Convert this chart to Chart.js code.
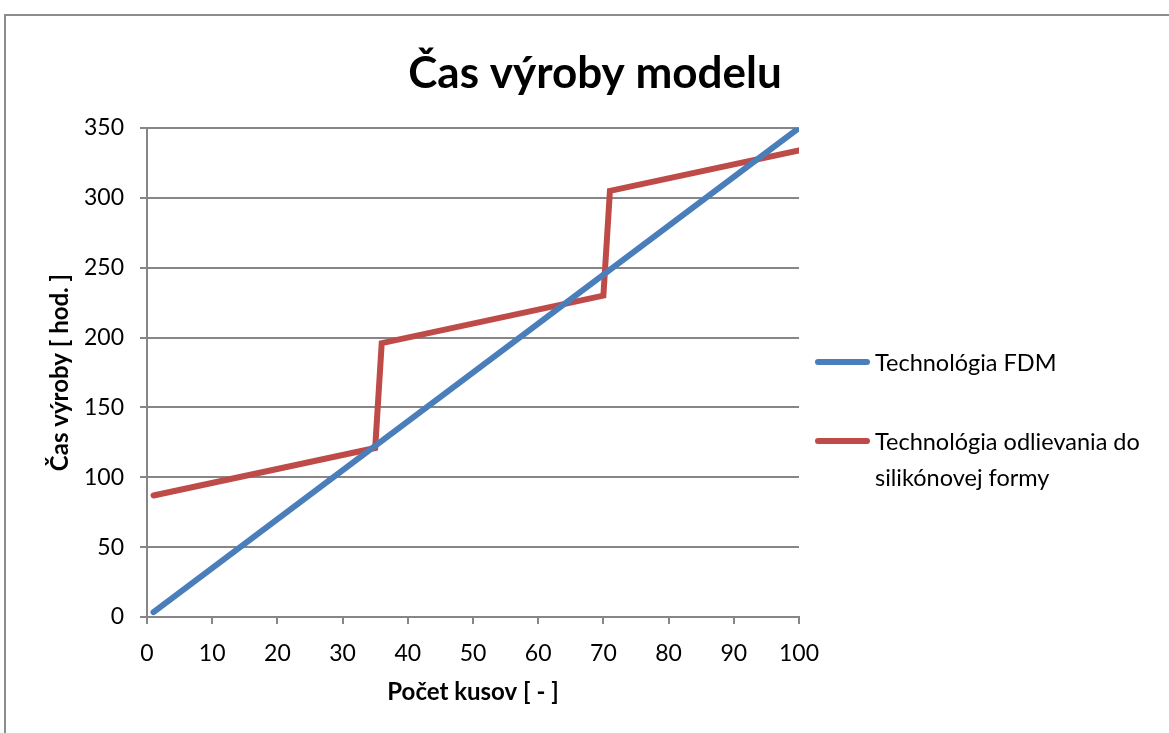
<!DOCTYPE html>
<html>
<head>
<meta charset="utf-8">
<script src="https://cdn.jsdelivr.net/npm/chart.js@4.4.1/dist/chart.umd.min.js"></script>
<style>
  html, body { margin: 0; padding: 0; background: #fff; overflow: hidden; }
  #wrap { position: relative; width: 1169px; height: 733px; }
  #frame { position: absolute; left: 4px; top: 14px; width: 1300px; height: 900px; border: 2px solid #8c8c8c; box-sizing: border-box; pointer-events: none; }
  #legend { position: absolute; left: 815px; top: 340px; font-family: Lato, "Open Sans", sans-serif; font-size: 23.5px; color: #000; }
  .item { position: absolute; left: 0; white-space: nowrap; }
  .swatch { position: absolute; left: 0; width: 55px; height: 6px; border-radius: 3px; }
  .label { position: absolute; left: 60px; line-height: 36px; }
</style>
</head>
<body>
<div id="wrap">
  <canvas id="c" width="1169" height="733"></canvas>
  <div id="frame"></div>
  <div id="legend"></div>
</div>
<script>
const chartTitle = "Čas výroby modelu";
const xAxisTitle = "Počet kusov [ - ]";
const yAxisTitle = "Čas výroby [ hod. ]";

const fdmLabel = "Technológia FDM";
const fdmX = [1, 100];
const fdmY = [3.5, 350];

const castLabelLines = ["Technológia odlievania do", "silikónovej formy"];
const castX = [1, 35, 36, 70, 71, 100];
const castY = [87, 121, 196, 230, 305, 334];

const xTicks = [0, 10, 20, 30, 40, 50, 60, 70, 80, 90, 100];
const yTicks = [0, 50, 100, 150, 200, 250, 300, 350];

const blue = "#4a7ebb";
const red = "#be4b48";
const gray = "#868686";
const fontFam = "Lato, 'Open Sans', sans-serif";

const toPts = (xs, ys) => xs.map((x, i) => ({ x, y: ys[i] }));

new Chart(document.getElementById("c"), {
  type: "line",
  data: {
    datasets: [
      { label: fdmLabel, data: toPts(fdmX, fdmY), borderColor: blue, backgroundColor: blue, borderWidth: 6, pointRadius: 0, borderCapStyle: "round", borderJoinStyle: "round", tension: 0 },
      { label: castLabelLines.join(" "), data: toPts(castX, castY), borderColor: red, backgroundColor: red, borderWidth: 6, pointRadius: 0, borderCapStyle: "round", borderJoinStyle: "miter", tension: 0 }
    ]
  },
  options: {
    responsive: false,
    animation: false,
    layout: { padding: { left: 21, right: 0, top: 0, bottom: 0 } },
    plugins: {
      legend: { display: false },
      tooltip: { enabled: false },
      title: {
        display: true,
        text: chartTitle,
        color: "#000",
        font: { family: fontFam, size: 44, weight: "bold" },
        padding: { top: 47, bottom: 28.2 }
      }
    },
    scales: {
      x: {
        type: "linear",
        min: 0, max: 100,
        afterBuildTicks: s => { s.ticks = xTicks.map(v => ({ value: v })); },
        afterFit: s => { s.height = 116; },
        grid: { drawOnChartArea: false, drawTicks: true, tickLength: 7, color: gray, lineWidth: 2 },
        border: { display: true, color: gray, width: 2 },
        ticks: { color: "#000", font: { family: fontFam, size: 23 }, padding: 16, maxRotation: 0 },
        title: { display: true, text: xAxisTitle, color: "#000", font: { family: fontFam, size: 24, weight: "bold" }, padding: { bottom: 26.6, top: 0 } }
      },
      y: {
        type: "linear",
        min: 0, max: 350,
        afterBuildTicks: s => { s.ticks = yTicks.map(v => ({ value: v })); },
        afterFit: s => { s.width = 126; },
        grid: { drawOnChartArea: true, drawTicks: true, tickLength: 7, color: gray, lineWidth: 2 },
        border: { display: true, color: gray, width: 2 },
        ticks: { color: "#000", font: { family: fontFam, size: 23 }, padding: 16 },
        title: { display: true, text: yAxisTitle, color: "#000", font: { family: fontFam, size: 24, weight: "bold" }, padding: { top: 24.6, bottom: 0 } }
      },
      y2: {
        type: "linear",
        position: "right",
        display: true,
        min: 0, max: 350,
        afterFit: s => { s.width = 370; },
        grid: { display: false, drawTicks: false },
        border: { display: false },
        ticks: { display: false }
      }
    }
  }
});

// HTML legend built from the dataset labels/colours
const legend = document.getElementById("legend");
const items = [
  { color: blue, lines: [fdmLabel], top: 0 },
  { color: red, lines: castLabelLines, top: 79 }
];
items.forEach(it => {
  const d = document.createElement("div");
  d.className = "item";
  d.style.top = it.top + "px";
  const sw = document.createElement("div");
  sw.className = "swatch";
  sw.style.background = it.color;
  sw.style.top = "19px";
  const lb = document.createElement("div");
  lb.className = "label";
  lb.style.top = "4px";
  lb.innerHTML = it.lines.join("<br>");
  d.appendChild(sw);
  d.appendChild(lb);
  legend.appendChild(d);
});
</script>
</body>
</html>
